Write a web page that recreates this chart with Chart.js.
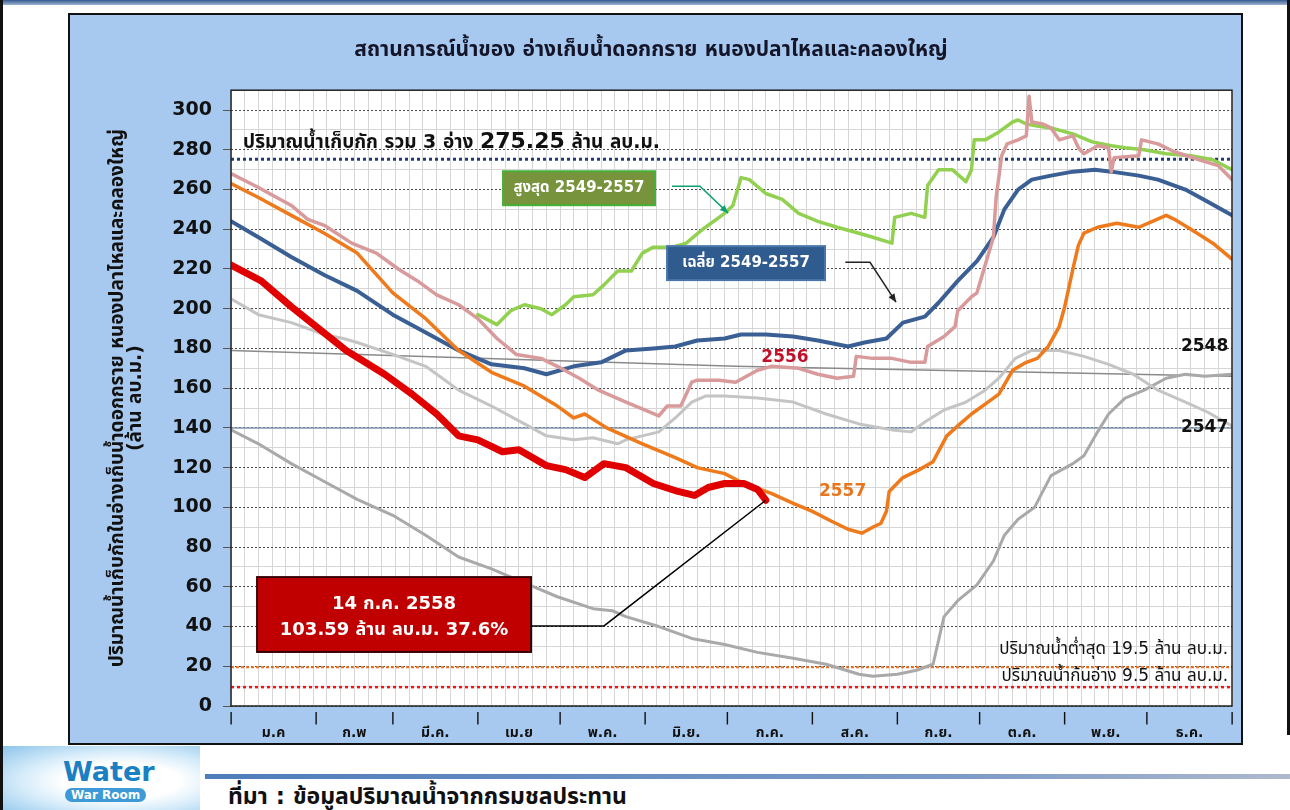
<!DOCTYPE html>
<html>
<head>
<meta charset="utf-8">
<script src="https://cdn.jsdelivr.net/npm/chart.js@4.4.1/dist/chart.umd.min.js"></script>
<style>
  body { margin: 0; width: 1290px; height: 810px; position: relative; background: #fff; overflow: hidden;
         font-family: "DejaVu Sans", "Noto Sans Thai", sans-serif; }
  #topbar { position: absolute; left: 0; top: 0; width: 1290px; height: 5px; background: linear-gradient(#355a90, #9fb3d3); }
  #lside { position: absolute; left: 0; top: 0; width: 3px; height: 810px; background: #111; }
  #rside { position: absolute; left: 1287px; top: 0; width: 3px; height: 735px; background: #111; }
  #panel { position: absolute; left: 68px; top: 13px; width: 1175px; height: 732px; border: 2px solid #111;
           box-sizing: border-box; background: #a7c9ef; }
  #rule { position: absolute; left: 205px; top: 774px; width: 1085px; height: 5px;
          background: linear-gradient(90deg, #4f7dbb, #7d9bc7 70%, #aeb9cc); }
  #source { position: absolute; left: 228px; top: 780px; font-weight: bold; font-size: 23px; color: #111; }
  #logo { position: absolute; left: 3px; top: 746px; width: 197px; height: 64px;
          background: radial-gradient(ellipse at 60% 55%, #ffffff 35%, #d6ecfa 60%, #8cc4ea 100%); }
  #logo .w { position: absolute; left: 60px; top: 10px; font: bold 27px "DejaVu Sans", sans-serif; color: #1b7fc4; }
  #logo .r { position: absolute; left: 62px; top: 42px; padding: 0 6px; font: bold 12px "DejaVu Sans", sans-serif;
             color: #fff; background: #3d9ad6; border-radius: 8px; }
</style>
</head>
<body>
<div id="topbar"></div>
<div id="lside"></div>
<div id="rside"></div>
<div id="panel"><canvas id="waterChart" width="1171" height="728"></canvas></div>
<div id="logo"><span class="w">Water</span><span class="r">War Room</span></div>
<div id="rule"></div>
<div id="source">ที่มา : ข้อมูลปริมาณน้ำจากกรมชลประทาน</div>
<script>
// x = day of year (0 = 1 Jan), y = million m3
const monthStarts = [0, 31, 59, 90, 120, 151, 181, 212, 243, 273, 304, 334, 365];
const monthLabels = ['ม.ค', 'ก.พ', 'มี.ค.', 'เม.ย', 'พ.ค.', 'มิ.ย.', 'ก.ค.', 'ส.ค.', 'ก.ย.', 'ต.ค.', 'พ.ย.', 'ธ.ค.'];
const yTicks = [0, 20, 40, 60, 80, 100, 120, 140, 160, 180, 200, 220, 240, 260, 280, 300];

const days2558 = [0, 11, 22, 42, 56, 66, 75, 83, 90, 99, 105, 115, 122, 129, 136, 144, 154, 163, 169, 174, 180, 187, 192, 195];
const vol2558 = [222, 214, 201, 179, 167, 157, 147, 136, 134, 128, 129, 121, 119, 115, 122, 120, 112, 108, 106, 110, 112, 112, 109, 103.59];

const days2557 = [0, 10, 22, 34, 46, 59, 71, 83, 95, 107, 119, 125, 129, 137, 150, 162, 170, 180, 187, 197, 205, 212, 219, 225, 230,
  234, 237, 239, 240, 245, 251, 256, 261, 265, 270, 275, 280, 285, 290, 294, 298, 302, 304, 307, 309, 311, 316, 323, 331, 336, 341,
  344, 350, 358, 365];
const vol2557 = [263, 256, 247, 238, 228, 208, 195, 179, 168, 161, 151, 145, 147, 140, 132, 125, 120, 117, 112, 107, 102, 98, 93, 89, 87,
  90, 92, 98, 108, 115, 119, 123, 136, 141, 147, 152, 157, 169, 173, 175, 181, 191, 201, 220, 232, 238, 241, 243, 241, 244, 247,
  245, 240, 233, 225];

const days2556 = [0, 10, 22, 28, 34, 44, 53, 61, 68, 75, 83, 90, 97, 104, 113, 119, 127, 134, 144, 151, 156, 159, 164, 168, 170, 178,
  184, 192, 197, 207, 214, 221, 227, 228, 234, 241, 248, 253, 254, 260, 264, 265, 270, 272, 275, 278, 279, 281, 283, 287, 290, 291,
  292, 296, 299, 302, 307, 309, 311, 316, 320, 321, 322, 331, 332, 338, 344, 353, 360, 365];
const vol2556 = [268, 261, 252, 245, 242, 233, 228, 220, 214, 207, 202, 195, 185, 177, 175, 171, 165, 159, 153, 149, 146, 151, 151, 163, 164, 164,
  163, 169, 171, 170, 167, 165, 166, 176, 175, 175, 173, 173, 181, 186, 191, 199, 206, 208, 222, 236, 256, 277, 283, 285, 287, 307,
  294, 293, 291, 285, 287, 281, 278, 282, 281, 269, 276, 277, 285, 283, 279, 275, 272, 265];

const daysMax = [90, 97, 102, 107, 113, 117, 122, 125, 132, 136, 141, 146, 150, 154, 161, 166, 172, 178, 180, 183, 186, 189, 195, 201,
  207, 214, 221, 229, 234, 241, 242, 248, 253, 254, 258, 263, 268, 270, 271, 275, 280, 285, 287, 290, 294, 299, 307, 314, 321, 326,
  333, 341, 350, 358, 365];
const volMax = [197, 192, 199, 202, 200, 197, 202, 206, 207, 212, 219, 219, 228, 231, 231, 233, 240, 246, 248, 252, 266, 265, 258, 255,
  248, 244, 241, 238, 236, 233, 246, 248, 246, 262, 270, 270, 264, 270, 285, 285, 289, 294, 295, 293, 292, 291, 288, 284, 282, 281,
  280, 278, 277, 275, 270];

const daysAvg = [0, 10, 22, 34, 46, 59, 71, 83, 95, 107, 115, 125, 135, 144, 154, 162, 170, 180, 186, 195, 205, 214, 225, 231, 239, 245,
  253, 258, 265, 272, 278, 282, 287, 292, 299, 307, 315, 321, 331, 338, 348, 356, 365];
const volAvg = [244, 236, 226, 217, 209, 197, 188, 179, 172, 170, 167, 171, 173, 179, 180, 181, 184, 185, 187, 187, 186, 184, 181, 183, 185, 193,
  196, 203, 214, 224, 236, 250, 260, 265, 267, 269, 270, 269, 267, 265, 260, 254, 247];

const days2548 = [0, 10, 22, 34, 41, 46, 59, 71, 83, 95, 107, 115, 125, 132, 141, 144, 150, 156, 162, 168, 173, 180, 192, 205, 217, 229,
  241, 248, 253, 260, 268, 275, 280, 286, 292, 302, 311, 320, 329, 338, 348, 356, 365];
const vol2548 = [205, 197, 193, 187, 185, 183, 177, 171, 159, 151, 142, 136, 134, 135, 132, 134, 136, 138, 145, 153, 156, 156, 155, 153, 147, 142,
  139, 138, 143, 149, 153, 159, 165, 175, 179, 179, 176, 172, 167, 159, 153, 148, 141];

const days2547 = [0, 10, 22, 34, 46, 59, 71, 83, 95, 107, 119, 132, 139, 144, 156, 168, 180, 192, 205, 217, 229, 234, 243, 250, 256, 258,
  260, 265, 272, 278, 282, 287, 293, 299, 307, 311, 316, 320, 326, 333, 341, 348, 355, 365];
const vol2547 = [139, 132, 122, 113, 104, 96, 86, 75, 69, 62, 55, 49, 48, 45, 40, 34, 31, 27, 24, 21, 16, 15, 16, 18, 21, 33,
  45, 53, 61, 73, 86, 94, 100, 116, 122, 126, 138, 147, 155, 159, 165, 167, 166, 167];

const daysTrend = [0, 184, 365];
const volTrend = [179, 171, 166];
const daysFlat = [0, 365];
const volFlat = [140, 140];

const capacity = 275.25;
const minLevel = 19.5;
const deadLevel = 9.5;

const TH = '"DejaVu Sans", "Noto Sans Thai", sans-serif';

function pts(d, v) { return d.map((x, i) => ({ x: x, y: v[i] })); }
function level(v) { return [{ x: 0, y: v }, { x: 365, y: v }]; }

function line(label, data, color, width, dash) {
  return { label: label, data: data, borderColor: color, borderWidth: width, borderDash: dash || [],
    pointRadius: 0, fill: false, tension: 0, borderJoinStyle: 'round', borderCapStyle: dash ? 'butt' : 'round' };
}

function arrow(ctx, p, color, head) {
  ctx.strokeStyle = color; ctx.fillStyle = color; ctx.lineWidth = 1.5;
  ctx.beginPath(); ctx.moveTo(p[0][0], p[0][1]);
  for (let i = 1; i < p.length; i++) ctx.lineTo(p[i][0], p[i][1]);
  ctx.stroke();
  if (!head) return;
  const [x1, y1] = p[p.length - 2], [x2, y2] = p[p.length - 1];
  const a = Math.atan2(y2 - y1, x2 - x1);
  ctx.beginPath();
  ctx.moveTo(x2, y2);
  ctx.lineTo(x2 - 9 * Math.cos(a - 0.4), y2 - 9 * Math.sin(a - 0.4));
  ctx.lineTo(x2 - 9 * Math.cos(a + 0.4), y2 - 9 * Math.sin(a + 0.4));
  ctx.closePath(); ctx.fill();
}

const decorPlugin = {
  id: 'decor',
  beforeDraw(chart) {
    const { ctx, chartArea: a } = chart;
    ctx.save();
    ctx.fillStyle = '#ffffff';
    ctx.fillRect(a.left, a.top, a.width, a.height);
    ctx.restore();
  },
  afterDraw(chart) {
    const { ctx, chartArea: a } = chart;
    const X = d => chart.scales.x.getPixelForValue(d);
    const Y = v => chart.scales.y.getPixelForValue(v);
    ctx.save();
    ctx.strokeStyle = '#222'; ctx.lineWidth = 1.5;
    ctx.strokeRect(a.left, a.top, a.width, a.height);

    // capacity note
    ctx.fillStyle = '#111'; ctx.textBaseline = 'alphabetic'; ctx.textAlign = 'left';
    let x = X(4.4); const yb = Y(280) - 2;
    const parts = [['ปริมาณน้ำเก็บกัก รวม 3 อ่าง ', 19], ['275.25', 22], [' ล้าน ลบ.ม.', 19]];
    parts.forEach(([t, s]) => { ctx.font = 'bold ' + s + 'px ' + TH; ctx.fillText(t, x, yb); x += ctx.measureText(t).width; });

    // boxes
    function box(d1, v1, d2, v2, fill, stroke, lines, size, vs) {
      ctx.fillStyle = fill; ctx.strokeStyle = stroke; ctx.lineWidth = 2;
      ctx.fillRect(X(d1), Y(v1), X(d2) - X(d1), Y(v2) - Y(v1));
      ctx.strokeRect(X(d1), Y(v1), X(d2) - X(d1), Y(v2) - Y(v1));
      ctx.fillStyle = '#fff'; ctx.font = 'bold ' + size + 'px ' + TH;
      ctx.textAlign = 'center'; ctx.textBaseline = 'middle';
      lines.forEach((t, i) => ctx.fillText(t, X((d1 + d2) / 2), Y(vs[i])));
    }
    box(99.2, 269.2, 154.6, 252.1, '#77933c', '#45b035', ['สูงสุด 2549-2557'], 15, [260.7]);
    box(159, 231.5, 216.6, 214.4, '#2f5b8e', '#4a76aa', ['เฉลี่ย 2549-2557'], 15, [223]);
    box(9.5, 64.9, 109.4, 27.2, '#c00000', '#3a0000', ['14 ก.ค. 2558', '103.59 ล้าน ลบ.ม. 37.6%'], 18, [51.3, 38.2]);

    arrow(ctx, [[X(160.8), Y(261.7)], [X(171), Y(261.7)], [X(181.3), Y(248.1)]], '#10a070', true);
    arrow(ctx, [[X(224), Y(223.4)], [X(233), Y(223.4)], [X(242.5), Y(203.3)]], '#222', true);
    const endD = days2558[days2558.length - 1], endV = vol2558[vol2558.length - 1];
    arrow(ctx, [[X(109.4), Y(40.3)], [X(136), Y(40.3)], [X(endD), Y(endV)]], '#000', false);

    // series labels
    ctx.textAlign = 'center'; ctx.textBaseline = 'middle';
    ctx.font = 'bold 17px ' + TH;
    ctx.fillStyle = '#c0102a'; ctx.fillText('2556', X(202), Y(175.6));
    ctx.fillStyle = '#e8761e'; ctx.fillText('2557', X(223), Y(107.7));
    ctx.font = 'bold 17px ' + TH; ctx.fillStyle = '#111';
    ctx.fillText('2548', X(355), Y(180.7));
    ctx.fillText('2547', X(355), Y(140));

    ctx.textAlign = 'right'; ctx.font = '17px ' + TH;
    ctx.fillText('ปริมาณน้ำต่ำสุด 19.5 ล้าน ลบ.ม.', X(363.6), Y(28.5));
    ctx.fillText('ปริมาณน้ำก้นอ่าง 9.5 ล้าน ลบ.ม.', X(363.6), Y(15));
    ctx.restore();
  }
};

const ctx = document.getElementById('waterChart').getContext('2d');
new Chart(ctx, {
  type: 'line',
  data: {
    datasets: [
      line('2558', pts(days2558, vol2558), '#e00000', 7),
      line('2557', pts(days2557, vol2557), '#ee7a1c', 3.5),
      line('2556', pts(days2556, vol2556), '#d89a9a', 3.5),
      line('เฉลี่ย 2549-2557', pts(daysAvg, volAvg), '#3a5f94', 4),
      line('สูงสุด 2549-2557', pts(daysMax, volMax), '#92d050', 3.5),
      line('2548', pts(days2548, vol2548), '#c4c4c4', 3),
      line('2547', pts(days2547, vol2547), '#a9a9a9', 3),
      line('trend', pts(daysTrend, volTrend), '#8a8a8a', 1.5),
      line('flat', pts(daysFlat, volFlat), '#8497b0', 1.5),
      line('ความจุ', level(capacity), '#1f3b70', 3, [3, 3]),
      line('ต่ำสุด', level(minLevel), '#f07020', 2, [3, 2]),
      line('ก้นอ่าง', level(deadLevel), '#ff1010', 2.5, [3, 3])
    ]
  },
  options: {
    responsive: false,
    animation: false,
    layout: { padding: { top: 0, left: 0, right: 9, bottom: 0 } },
    plugins: {
      legend: { display: false },
      tooltip: { enabled: false },
      title: {
        display: true,
        text: 'สถานการณ์น้ำของ อ่างเก็บน้ำดอกกราย หนองปลาไหลและคลองใหญ่',
        color: '#15152a',
        font: { family: TH, size: 21, weight: 'bold' },
        padding: { top: 23, bottom: 27 }
      }
    },
    scales: {
      x: {
        type: 'linear', min: 0, max: 365,
        ticks: { display: false, stepSize: 5 },
        grid: { color: '#d6d6d6', drawTicks: false },
        border: { display: false },
        afterFit: s => { s.height = 0; }
      },
      xm: {
        type: 'linear', position: 'bottom', min: 0, max: 365,
        grid: { display: false, drawTicks: false },
        border: { display: false },
        afterBuildTicks: s => {
          const t = monthStarts.map(v => ({ value: v }));
          monthLabels.forEach((m, i) => t.push({ value: (monthStarts[i] + monthStarts[i + 1]) / 2 }));
          s.ticks = t.sort((a, b) => a.value - b.value);
        },
        ticks: {
          autoSkip: false, maxRotation: 0, padding: 3, color: '#111',
          callback: v => {
            const i = monthStarts.indexOf(v);
            if (i >= 0) return '|';
            const m = monthStarts.findIndex((s, k) => v > s && v < monthStarts[k + 1]);
            return ['', monthLabels[m]];
          },
          font: c => monthStarts.includes(c.tick && c.tick.value)
            ? { family: TH, size: 13, weight: 'bold', lineHeight: '19px' }
            : { family: TH, size: 14, weight: 'bold', lineHeight: '16px' }
        },
        afterFit: s => { s.height = 37; }
      },
      y2: {
        type: 'linear', position: 'left', min: 0, max: 310,
        ticks: { display: false, stepSize: 10 },
        grid: { drawTicks: false, color: c => (c.tick && c.tick.value % 20 === 0) ? 'rgba(0,0,0,0)' : '#d6d6d6' },
        border: { display: false },
        afterBuildTicks: s => { s.ticks = s.ticks.filter(t => t.value < 310); },
        afterFit: s => { s.width = 0; }
      },
      y: {
        type: 'linear', position: 'left', min: 0, max: 310,
        afterBuildTicks: s => { s.ticks = yTicks.map(v => ({ value: v })); },
        ticks: { padding: 11, color: '#111', font: { family: 'DejaVu Sans', size: 19, weight: 'bold' } },
        grid: { color: '#4a4a4a', lineWidth: 1, tickLength: 8, tickColor: '#555' },
        border: { display: false, dash: [2, 2] },
        title: {
          display: true,
          text: ['ปริมาณน้ำเก็บกักในอ่างเก็บน้ำดอกกราย หนองปลาไหลและคลองใหญ่', '(ล้าน ลบ.ม.)'],
          color: '#111',
          font: { family: TH, size: 19, weight: 'bold', lineHeight: '18px' },
          padding: { top: 39, bottom: 0 }
        },
        afterFit: s => { s.width = 161; }
      }
    }
  },
  plugins: [decorPlugin]
});
</script>
</body>
</html>
